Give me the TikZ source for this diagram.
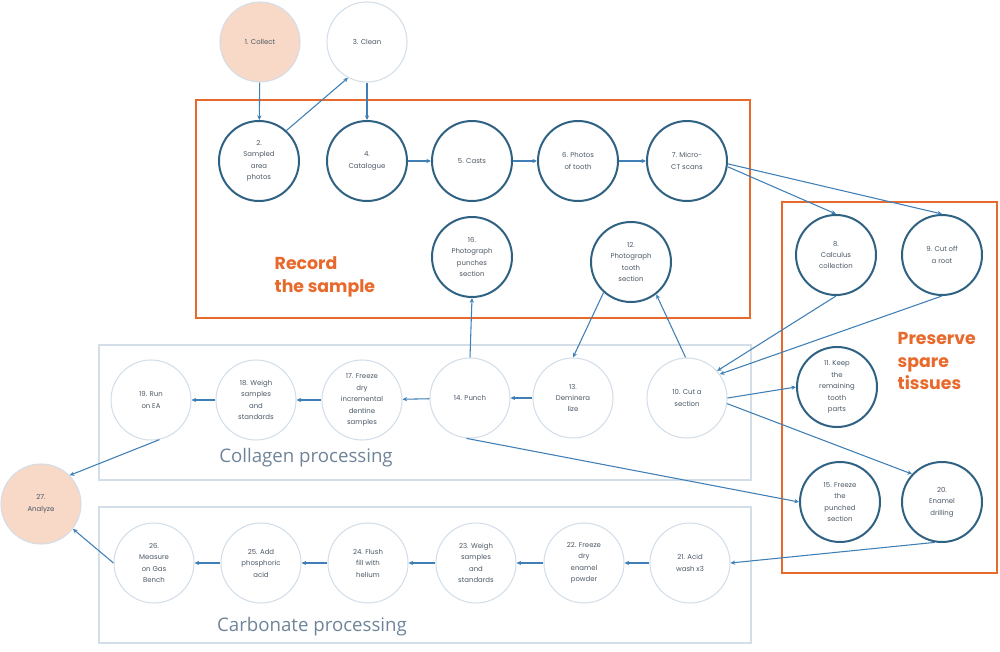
\documentclass[tikz,border=0pt]{standalone}
\usepackage{fontspec}
\setmainfont{Poppins}
\newfontfamily\plexfont{Open Sans}
\usetikzlibrary{arrows.meta}

\definecolor{inkblue}{HTML}{2F6183}
\definecolor{arrowblue}{HTML}{3F7FB5}
\definecolor{paleline}{HTML}{D3DEE8}
\definecolor{peach}{HTML}{F8D8C6}
\definecolor{burnt}{HTML}{E8692C}
\definecolor{greytext}{HTML}{4A5764}
\definecolor{grouptext}{HTML}{6F8498}

\tikzstyle{stage} = [circle, minimum size=60pt, inner sep=0pt, align=center,
	font=\fontsize{5.2}{8.6}\selectfont, text=greytext]
\tikzstyle{recorded} = [stage, draw=inkblue, line width=1.5pt]
\tikzstyle{lab} = [stage, draw=paleline, line width=0.8pt]
\tikzstyle{sample} = [stage, fill=peach, draw=paleline, line width=0.8pt]
\tikzstyle{flow} = [-{Stealth[length=3.5pt,width=3.2pt]}, draw=arrowblue, line width=0.8pt]
\tikzstyle{groupbox} = [draw=paleline, line width=0.8pt]
\tikzstyle{keepbox} = [draw=burnt, line width=2.2pt]
\tikzstyle{grouplabel} = [font=\plexfont\fontsize{14}{16}\selectfont, text=grouptext]
\tikzstyle{keeplabel} = [font=\fontsize{13}{17}\selectfont\bfseries, text=burnt, align=left]

\begin{document}
\begin{tikzpicture}[x=0.75pt, y=-0.75pt]
\useasboundingbox (0,0) rectangle (1000,652);

% frames
\draw[groupbox] (99,345) rectangle (751,480);
\draw[groupbox] (99,507) rectangle (751,643);
\draw[keepbox] (196,100) rectangle (750,318);
\draw[keepbox] (782,202) rectangle (997,573);

\node[keeplabel, anchor=west] (recordlbl) at (270,277) {Record\\the sample};
\node[keeplabel, anchor=west] (preservelbl) at (893,361) {Preserve\\spare\\tissues};
\node[grouplabel] (collagenlbl) at (306,458) {Collagen processing};
\node[grouplabel] (carbonatelbl) at (312,627) {Carbonate processing};

% record the sample
\node[sample] (n1) at (260,42) {1. Collect};
\node[lab] (n3) at (367,42) {3. Clean};
\node[recorded] (n2) at (259,161) {2.\\Sampled\\area\\photos};
\node[recorded] (n4) at (367,161) {4.\\Catalogue};
\node[recorded] (n5) at (472,161) {5. Casts};
\node[recorded] (n6) at (578,161) {6. Photos\\of tooth};
\node[recorded] (n7) at (687,161) {7. Micro-\\CT scans};
\node[recorded] (n16) at (472,257) {16.\\Photograph\\punches\\section};
\node[recorded] (n12) at (631,262) {12.\\Photograph\\tooth\\section};

% preserve spare tissues
\node[recorded] (n8) at (836,255) {8.\\Calculus\\collection};
\node[recorded] (n9) at (942,255) {9. Cut off\\a root};
\node[recorded] (n11) at (837,387) {11. Keep\\the\\remaining\\tooth\\parts};
\node[recorded] (n15) at (840,502) {15. Freeze\\the\\punched\\section};
\node[recorded] (n20) at (942,502) {20.\\Enamel\\drilling};

% collagen processing
\node[lab] (n19) at (151,400) {19. Run\\on EA};
\node[lab] (n18) at (256,400) {18. Weigh\\samples\\and\\standards};
\node[lab] (n17) at (362,400) {17. Freeze\\dry\\incremental\\dentine\\samples};
\node[lab] (n14) at (470,398) {14. Punch};
\node[lab] (n13) at (573,398) {13.\\Deminera\\lize};
\node[lab] (n10) at (687,398) {10. Cut a\\section};

% carbonate processing
\node[sample] (n27) at (41,504) {27.\\Analyze};
\node[lab] (n26) at (154,563) {26.\\Measure\\on Gas\\Bench};
\node[lab] (n25) at (261,563) {25. Add\\phosphoric\\acid};
\node[lab] (n24) at (368,563) {24. Flush\\fill with\\helium};
\node[lab] (n23) at (476,563) {23. Weigh\\samples\\and\\standards};
\node[lab] (n22) at (584,563) {22. Freeze\\dry\\enamel\\powder};
\node[lab] (n21) at (690,563) {21. Acid\\wash x3};

% connectors
\draw[flow] (n1) -- (n2);
\draw[flow] (n2.48) -- (n3.-118);
\draw[flow] (n3) -- (n4);
\draw[flow] (n4) -- (n5);
\draw[flow] (n5) -- (n6);
\draw[flow] (n6) -- (n7);
\draw[flow] (n7.-8) -- (n8.north);
\draw[flow] (n7.-4) -- (n9.north);
\draw[flow] (n8.south) -- (n10.42);
\draw[flow] (n9.south) -- (n10.36);
\draw[flow] (n10.92) -- (n12.-52);
\draw[flow] (n12.-132) -- (n13.north);
\draw[flow] (n14.north) -- (n16.south);
\draw[flow] (n10.east) -- (n11.west);
\draw[flow] (n10.-8) -- (n20.137);
\draw[flow] (n14.-95) -- (n15.west);
\draw[flow] (n20.-100) -- (n21.east);
\draw[flow] (n13) -- (n14);
\draw[flow] (n14) -- (n17);
\draw[flow] (n17) -- (n18);
\draw[flow] (n18) -- (n19);
\draw[flow] (n19.-78) -- (n27.45);
\draw[flow] (n21) -- (n22);
\draw[flow] (n22) -- (n23);
\draw[flow] (n23) -- (n24);
\draw[flow] (n24) -- (n25);
\draw[flow] (n25) -- (n26);
\draw[flow] (n26.west) -- (n27.-38);

\end{tikzpicture}
\end{document}
